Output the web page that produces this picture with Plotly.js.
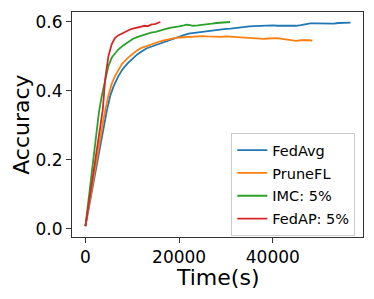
<!DOCTYPE html>
<html>
<head>
<meta charset="utf-8">
<script src="https://cdn.plot.ly/plotly-3.0.1.min.js"></script>
<style>html,body{margin:0;padding:0;background:#fff;}#chart{width:374px;height:299px;}</style>
</head>
<body>
<div id="chart"></div>
<script>
const seriesNames = ["FedAvg", "PruneFL", "IMC: 5%", "FedAP: 5%"];
const seriesColors = ["#1f77b4", "#ff7f0e", "#2ca02c", "#d62728"];

const fedAvgTime = [0, 1000, 2000, 3000, 4000, 4600, 5300, 6000, 7000, 8000, 9000, 10000, 11000, 12000, 13000, 14000, 15000, 16000, 17000, 18000, 19000, 20000, 21000, 22000, 23000, 24000, 25000, 26000, 27000, 28000, 29000, 30000, 31000, 32000, 33000, 34000, 35000, 36000, 37000, 38000, 39000, 40000, 41000, 42000, 43000, 44000, 45000, 46000, 47000, 48000, 49000, 50000, 51000, 52000, 53000, 54000, 55000, 56000, 56600];
const fedAvgAcc = [0.007, 0.082, 0.156, 0.230, 0.305, 0.345, 0.386, 0.413, 0.442, 0.464, 0.480, 0.493, 0.505, 0.514, 0.523, 0.528, 0.533, 0.539, 0.543, 0.549, 0.554, 0.559, 0.562, 0.566, 0.568, 0.569, 0.571, 0.573, 0.575, 0.577, 0.579, 0.580, 0.581, 0.583, 0.584, 0.585, 0.587, 0.588, 0.589, 0.590, 0.591, 0.590, 0.589, 0.589, 0.587, 0.587, 0.589, 0.591, 0.594, 0.596, 0.596, 0.596, 0.595, 0.594, 0.595, 0.597, 0.598, 0.599, 0.598];

const pruneTime = [0, 1000, 2000, 3000, 3900, 4900, 5600, 6300, 7000, 7800, 9000, 10000, 11000, 12000, 13000, 14000, 15000, 16000, 17000, 18000, 19000, 20000, 21000, 22000, 23000, 24000, 25000, 26000, 27000, 28000, 29000, 30000, 31000, 32000, 33000, 34000, 35000, 36000, 37000, 38000, 39000, 40000, 41000, 42000, 43000, 44000, 45000, 46000, 47000, 48000, 48400];
const pruneAcc = [0.007, 0.087, 0.167, 0.247, 0.320, 0.386, 0.420, 0.443, 0.461, 0.478, 0.495, 0.507, 0.517, 0.525, 0.530, 0.535, 0.539, 0.544, 0.547, 0.551, 0.553, 0.555, 0.556, 0.558, 0.558, 0.558, 0.559, 0.558, 0.557, 0.556, 0.557, 0.558, 0.557, 0.555, 0.555, 0.555, 0.554, 0.553, 0.552, 0.551, 0.552, 0.553, 0.553, 0.551, 0.549, 0.546, 0.545, 0.547, 0.548, 0.547, 0.545];

const imcTime = [0, 1000, 2000, 2900, 3500, 4200, 4900, 5600, 6300, 7000, 8000, 9000, 10000, 11000, 12000, 13000, 14000, 15000, 16000, 17000, 18000, 19000, 20000, 21000, 21600, 22300, 23000, 24000, 25000, 26000, 27000, 28000, 29000, 30000, 30900];
const imcAcc = [0.007, 0.122, 0.237, 0.340, 0.386, 0.434, 0.472, 0.496, 0.509, 0.520, 0.531, 0.540, 0.550, 0.556, 0.561, 0.565, 0.569, 0.571, 0.574, 0.579, 0.583, 0.584, 0.587, 0.590, 0.592, 0.591, 0.589, 0.590, 0.591, 0.593, 0.595, 0.597, 0.598, 0.599, 0.600];

const fedApTime = [0, 1000, 2000, 3000, 3700, 4200, 4900, 5600, 6300, 7000, 7800, 8500, 9200, 9900, 10600, 11300, 12000, 12700, 13400, 14100, 14800, 15500, 16000];
const fedApAcc = [0.007, 0.095, 0.185, 0.275, 0.345, 0.432, 0.500, 0.535, 0.553, 0.561, 0.567, 0.572, 0.576, 0.580, 0.582, 0.586, 0.587, 0.589, 0.588, 0.593, 0.594, 0.597, 0.600];

const xTickVals = [0, 20000, 40000];
const xTickText = ["0", "20000", "40000"];
const yTickVals = [0.0, 0.2, 0.4, 0.6];
const yTickText = ["0.0", "0.2", "0.4", "0.6"];
const xTitle = "Time(s)";
const yTitle = "Accuracy";

const xs = [fedAvgTime, pruneTime, imcTime, fedApTime];
const ys = [fedAvgAcc, pruneAcc, imcAcc, fedApAcc];

const traces = seriesNames.map((n, i) => ({
  type: "scatter",
  mode: "lines",
  name: n,
  legendgroup: "g" + i,
  x: xs[i],
  y: ys[i],
  line: {color: seriesColors[i], width: 1.8}
}));

const ff = "DejaVu Sans, sans-serif";

const axisCommon = {
  showgrid: false,
  zeroline: false,
  showline: true,
  mirror: true,
  linecolor: "#333",
  linewidth: 1,
  ticks: "outside",
  ticklen: 5,
  tickwidth: 1,
  tickcolor: "#333",
  tickfont: {family: ff, size: 17, color: "#000"},
  automargin: false
};

const layout = {
  width: 374,
  height: 299,
  margin: {l: 72, r: 11, t: 12, b: 62, pad: 0},
  paper_bgcolor: "#fff",
  plot_bgcolor: "#fff",
  showlegend: true,
  font: {family: ff, color: "#000"},
  xaxis: Object.assign({}, axisCommon, {range: [-2866, 59250], tickvals: xTickVals, ticktext: xTickText}),
  yaxis: Object.assign({}, axisCommon, {range: [-0.0244, 0.629], tickvals: yTickVals, ticktext: yTickText}),
  annotations: [
    {text: xTitle, xref: "paper", yref: "paper", x: 0.5, y: -0.122, xanchor: "center", yanchor: "top",
     borderpad: 0, showarrow: false, font: {family: ff, size: 22, color: "#000"}},
    {text: yTitle, xref: "paper", yref: "paper", x: -0.174, y: 0.5, xanchor: "center", yanchor: "middle",
     borderpad: 0, textangle: -90, showarrow: false, font: {family: ff, size: 22, color: "#000"}}
  ],
  legend: {
    x: 0.9735,
    xanchor: "right",
    y: 0.004,
    yanchor: "bottom",
    bgcolor: "rgba(255,255,255,0.8)",
    bordercolor: "#cccccc",
    borderwidth: 1,
    font: {family: ff, size: 14.5, color: "#000"},
    tracegroupgap: 1
  }
};

Plotly.newPlot("chart", traces, layout, {displayModeBar: false, staticPlot: true});
</script>
</body>
</html>
